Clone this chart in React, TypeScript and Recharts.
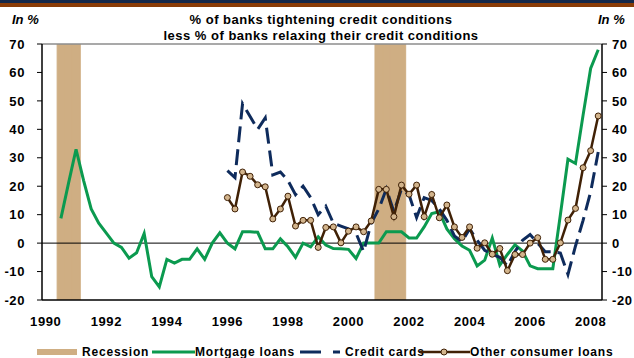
import { ComposedChart, Bar, Line, XAxis, YAxis, ReferenceLine } from 'recharts';

const FONT = "'Liberation Sans', Arial, sans-serif";

// quarterly survey dates, 1990Q1 .. 2008Q2
const firstYear = 1990;
const lastQuarter = '2008Q2';
const quarters: string[] = [];
for (let y = firstYear; ; y++) {
  let done = false;
  for (let q = 1; q <= 4; q++) {
    const label = `${y}Q${q}`;
    quarters.push(label);
    if (label === lastQuarter) { done = true; break; }
  }
  if (done) break;
}

const recessionQuarters = ['1990Q3', '1990Q4', '1991Q1', '2001Q1', '2001Q2', '2001Q3', '2001Q4'];

const mortgageLoans = [
  null, null, 8.7, 21, 33, 22, 12, 7, 3.5, 0,
  -1.5, -5.3, -3.4, 3.4, -11.8, -15.4, -5.7, -7, -5.7, -5.7,
  -2, -5.7, 0, 3.6, 0, -2, 4, 4, 3.8, -2,
  -2, 1.5, -1.3, -5, 0, -1.3, 2.2, -0.7, -1.9, -2,
  -2.2, -5.4, 0, 0, 0, 4, 4, 4, 1.8, 1.8,
  5.7, 10.4, 11, 5, 1.5, -1, -2.5, -8, -6, 1.8,
  -7.7, -4, -0.6, -2.8, -8, -9, -9, -9, 10, 29.5,
  28, 45, 61.4, 68,
];

const creditCards = [
  null, null, null, null, null, null, null, null, null, null,
  null, null, null, null, null, null, null, null, null, null,
  null, null, null, null, 25.5, 23, 49, 44.5, 40, 44,
  24, 25, 22, 17, 20, 16, 10, 13, 7, 6,
  5, 3.5, -3, 7, 12, 19, 11, 19, 17, 9,
  16, 15, 12, 8, 2.5, 0.5, 5, 1, -2.5, -4,
  -5, -8, -3, 1, 3, 0, -3, -3, -3.5, -11,
  -1, 8, 18, 32,
];

const otherConsumerLoans = [
  null, null, null, null, null, null, null, null, null, null,
  null, null, null, null, null, null, null, null, null, null,
  null, null, null, null, 16, 12, 25, 23.5, 20.5, 19.8,
  8.5, 12, 16.5, 6, 8, 8, -1.5, 5.5, 5.7, 0.1,
  4.2, 5.7, 4, 7.8, 18.9, 18.9, 9.3, 20.4, 17.2, 20.4,
  9.3, 17.1, 8.9, 13.4, 5.7, 2, 5.7, -1.8, 0.1, -3.9,
  -1.9, -9.7, -4, -4, 0, 1.9, -5.7, -5.7, 0.1, 8.1,
  12.2, 26.5, 32.5, 44.7,
];

const yearTicks = ['1990Q1', '1992Q1', '1994Q1', '1996Q1', '1998Q1', '2000Q1', '2002Q1', '2004Q1', '2006Q1', '2008Q1'];
const pctTicks = [-20, -10, 0, 10, 20, 30, 40, 50, 60, 70];

const TAN = '#CFAE83';
const GREEN = '#0B9A4F';
const NAVY = '#0E2B5C';
const BROWN = '#402106';

const data = quarters.map((q, i) => ({
  q,
  recession: recessionQuarters.includes(q) ? [-20, 70] : null,
  mortgage: mortgageLoans[i],
  cards: creditCards[i],
  consumer: otherConsumerLoans[i],
}));

const tickStyle = { fill: '#000', fontSize: 13, fontWeight: 700, fontFamily: FONT, letterSpacing: 0.6 };
const legendText = { fontSize: 12, fontWeight: 700, letterSpacing: 0.8, color: '#000', whiteSpace: 'nowrap' as const };

export default function App() {
  return (
    <div style={{ position: 'absolute', left: 0, top: 0, width: 634, height: 358, background: '#fff', fontFamily: FONT, overflow: 'hidden' }}>
      <div style={{ position: 'absolute', left: 0, top: 0, width: 634, height: 3, background: '#13284A' }} />
      <div style={{ position: 'absolute', left: 0, top: 3, width: 634, height: 4, background: '#8A3C07' }} />

      <div style={{ position: 'absolute', left: 12, top: 12, fontSize: 13, lineHeight: '16px', fontWeight: 700, fontStyle: 'italic' }}>In %</div>
      <div style={{ position: 'absolute', left: 598, top: 12, fontSize: 13, lineHeight: '16px', fontWeight: 700, fontStyle: 'italic' }}>In %</div>
      <div style={{ position: 'absolute', left: 0, top: 12, width: 642, textAlign: 'center', fontSize: 13, lineHeight: '16px', fontWeight: 700, letterSpacing: 0.5 }}>
        <div>% of banks tightening credit conditions</div>
        <div>less % of banks relaxing their credit conditions</div>
      </div>

      <div style={{ position: 'absolute', left: 0, top: 0 }}>
        <ComposedChart width={634} height={330} data={data} margin={{ top: 44, right: 0, bottom: 0, left: 0 }} barCategoryGap={0} barGap={0}>
          <XAxis
            dataKey="q"
            ticks={yearTicks}
            interval={0}
            tickFormatter={(v: string) => v.slice(0, 4)}
            tick={tickStyle}
            tickLine={false}
            tickSize={0}
            tickMargin={17}
            height={30}
            axisLine={{ stroke: '#000', strokeWidth: 1.5 }}
          />
          <YAxis
            yAxisId="left"
            domain={[-20, 70]}
            ticks={pctTicks}
            interval={0}
            width={42}
            tick={tickStyle}
            tickSize={5}
            tickMargin={12}
            tickLine={{ stroke: '#000' }}
            axisLine={{ stroke: '#000', strokeWidth: 1.5 }}
            allowDataOverflow
          />
          <YAxis
            yAxisId="right"
            orientation="right"
            domain={[-20, 70]}
            ticks={pctTicks}
            interval={0}
            width={32}
            tick={{ ...tickStyle, textAnchor: 'start' }}
            tickSize={5}
            tickMargin={5}
            tickLine={{ stroke: '#000' }}
            axisLine={{ stroke: '#000', strokeWidth: 1.5 }}
            allowDataOverflow
          />
          <Bar yAxisId="left" dataKey="recession" fill={TAN} stroke={TAN} strokeWidth={1} isAnimationActive={false} />
          <ReferenceLine yAxisId="left" y={70} stroke="#8c8c8c" strokeWidth={1.5} />
          <ReferenceLine yAxisId="left" y={0} stroke="#000" strokeWidth={1} />
          <Line yAxisId="left" type="linear" dataKey="mortgage" stroke={GREEN} strokeWidth={3} dot={false} isAnimationActive={false} />
          <Line yAxisId="left" type="linear" dataKey="cards" stroke={NAVY} strokeWidth={3} strokeDasharray="16 7" dot={false} isAnimationActive={false} />
          <Line
            yAxisId="left"
            type="linear"
            dataKey="consumer"
            stroke={BROWN}
            strokeWidth={2.5}
            dot={{ r: 3, fill: '#D2B48C', stroke: BROWN, strokeWidth: 1 }}
            isAnimationActive={false}
          />
        </ComposedChart>
      </div>

      {/* legend */}
      <div style={{ position: 'absolute', left: 37, top: 344, height: 16, display: 'flex', alignItems: 'center' }}>
        <div style={{ width: 40, height: 6, background: TAN, marginRight: 5 }} />
        <span style={legendText}>Recession</span>
      </div>
      <div style={{ position: 'absolute', left: 152, top: 344, height: 16, display: 'flex', alignItems: 'center' }}>
        <svg width={43} height={6}><line x1={0} y1={3} x2={43} y2={3} stroke={GREEN} strokeWidth={3} /></svg>
        <span style={legendText}>Mortgage loans</span>
      </div>
      <div style={{ position: 'absolute', left: 300, top: 344, height: 16, display: 'flex', alignItems: 'center' }}>
        <svg width={45} height={6}><line x1={0} y1={3} x2={40} y2={3} stroke={NAVY} strokeWidth={3} strokeDasharray="21 12" /></svg>
        <span style={legendText}>Credit cards</span>
      </div>
      <div style={{ position: 'absolute', left: 420, top: 344, height: 16, display: 'flex', alignItems: 'center' }}>
        <svg width={50} height={8}>
          <line x1={0} y1={4} x2={50} y2={4} stroke={BROWN} strokeWidth={2.5} />
          <circle cx={24} cy={4} r={3} fill="#D2B48C" stroke={BROWN} strokeWidth={1} />
        </svg>
        <span style={legendText}>Other consumer loans</span>
      </div>
    </div>
  );
}
